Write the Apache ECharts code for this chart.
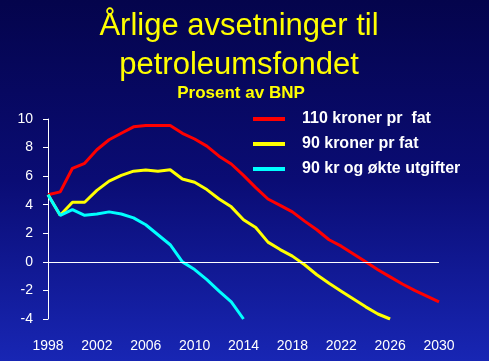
<!DOCTYPE html>
<html><head><meta charset="utf-8">
<style>html,body{margin:0;padding:0;}#c{width:489px;height:361px;}</style>
<script src="https://cdn.jsdelivr.net/npm/echarts@6/dist/echarts.min.js"></script>
</head><body><div id="c"></div>
<script>
const years = [1998,1999,2000,2001,2002,2003,2004,2005,2006,2007,2008,2009,2010,2011,2012,2013,2014,2015,2016,2017,2018,2019,2020,2021,2022,2023,2024,2025,2026,2027,2028,2029,2030];
const red110 = [4.7,4.9,6.55,6.9,7.85,8.55,9.0,9.45,9.55,9.55,9.55,9.0,8.6,8.1,7.4,6.85,6.05,5.2,4.4,3.95,3.5,2.85,2.25,1.55,1.1,0.55,0.0,-0.55,-1.05,-1.55,-2.0,-2.4,-2.8];
const yellow90 = [4.7,3.26,4.17,4.17,5.0,5.65,6.05,6.35,6.43,6.35,6.45,5.8,5.57,5.06,4.4,3.85,2.95,2.4,1.38,0.86,0.4,-0.2,-0.9,-1.5,-2.05,-2.6,-3.15,-3.65,-4.0];
const cyan90 = [4.7,3.26,3.66,3.26,3.35,3.5,3.35,3.08,2.6,1.9,1.2,0.0,-0.54,-1.24,-2.05,-2.8,-4.0];
const seriesNames = ['110 kroner pr  fat','90 kroner pr fat','90 kr og økte utgifter'];
const xTicks = {min:1998, max:2030, interval:4};
const yTicks = {min:-4, max:10, interval:2};

function pairs(vals){ return vals.map((v,i)=>[years[i],v]); }

const chart = echarts.init(document.getElementById('c'), null, {renderer:'canvas'});
const font = 'Liberation Sans, Arial, sans-serif';
chart.setOption({
  animation:false,
  backgroundColor:{type:'linear',x:0,y:0,x2:0,y2:1,colorStops:[
    {offset:0,color:'#04044c'},{offset:0.5,color:'#0a0c74'},{offset:1,color:'#1826b4'}]},
  title:[
    {text:'Årlige avsetninger til\npetroleumsfondet', left:234, textAlign:'center', top:2,
     textStyle:{color:'#ffff00',fontFamily:font,fontSize:31,fontWeight:'normal',lineHeight:39}},
    {text:'Prosent av BNP', left:236, textAlign:'center', top:80,
     textStyle:{color:'#ffff00',fontFamily:font,fontSize:17,fontWeight:'bold'}}
  ],
  legend:{
    orient:'vertical', left:248, top:106, itemWidth:32, itemHeight:4, itemGap:9,
    icon:'rect',
    textStyle:{color:'#ffffff',fontFamily:font,fontSize:16,fontWeight:'bold',padding:[0,0,0,12]},
    data:seriesNames
  },
  grid:{left:48,right:50,top:119,bottom:42},
  xAxis:{type:'value',min:xTicks.min,max:xTicks.max,interval:xTicks.interval,
    axisLine:{show:false},axisTick:{show:false},splitLine:{show:false},
    axisLabel:{color:'#ffffff',fontFamily:font,fontSize:14,margin:20,formatter:v=>String(v)}},
  yAxis:{type:'value',min:yTicks.min,max:yTicks.max,interval:yTicks.interval,
    axisLine:{show:true,lineStyle:{color:'#ffffff',width:1}},
    axisTick:{show:true,length:5,lineStyle:{color:'#ffffff'}},
    splitLine:{show:false},
    axisLabel:{color:'#ffffff',fontFamily:font,fontSize:14,margin:15}},
  series:[
    {name:seriesNames[0],type:'line',data:pairs(red110),symbol:'none',
     lineStyle:{color:'#ff0000',width:3},itemStyle:{color:'#ff0000'},
     markLine:{silent:true,symbol:'none',label:{show:false},
       lineStyle:{color:'#ffffff',width:1,type:'solid'},data:[{yAxis:0}]}},
    {name:seriesNames[1],type:'line',data:pairs(yellow90),symbol:'none',
     lineStyle:{color:'#ffff00',width:3},itemStyle:{color:'#ffff00'}},
    {name:seriesNames[2],type:'line',data:pairs(cyan90),symbol:'none',
     lineStyle:{color:'#00ffff',width:3},itemStyle:{color:'#00ffff'}}
  ]
});
</script></body></html>
